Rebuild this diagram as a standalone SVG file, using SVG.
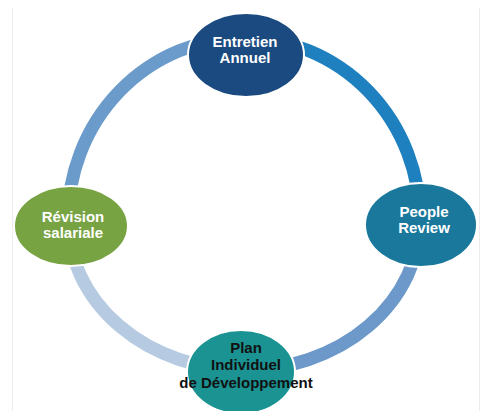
<svg xmlns="http://www.w3.org/2000/svg" width="483" height="411" viewBox="0 0 483 411">
  <style>
    .ring { fill: none; stroke-width: 13; }
    .node { stroke: #ffffff; stroke-width: 2; }
    .lbl { font-family: "Liberation Sans", Arial, sans-serif; font-weight: bold; font-size: 15px; text-anchor: middle; fill: #ffffff; }
    .dark { fill: #111111; }
    .frame { stroke: #ececec; stroke-width: 1; }
  </style>
  <rect width="483" height="411" fill="#ffffff"/>
  <line class="frame" x1="12.5" y1="8" x2="12.5" y2="411"/>
  <line class="frame" x1="479.5" y1="8" x2="479.5" y2="411"/>

  <!-- cycle ring, one arc per quarter -->
  <g id="connectors">
    <path class="ring" stroke="#6a9bcb" d="M68,220 A176,182 0 0,1 244,38"/>
    <path class="ring" stroke="#1f80c0" d="M244,38 A176,182 0 0,1 420,220"/>
    <path class="ring" stroke="#6c99c9" d="M420,220 A176,150 0 0,1 244,370"/>
    <path class="ring" stroke="#b6cae2" d="M244,370 A176,150 0 0,1 68,220"/>
  </g>

  <g id="node-entretien">
    <ellipse class="node" cx="246" cy="55" rx="58" ry="42" fill="#1a4a7f"/>
    <text class="lbl" x="245" y="47">Entretien</text>
    <text class="lbl" x="245" y="63">Annuel</text>
  </g>

  <g id="node-people">
    <ellipse class="node" cx="421" cy="225" rx="56" ry="42" fill="#19789c"/>
    <text class="lbl" x="424" y="217">People</text>
    <text class="lbl" x="424" y="233">Review</text>
  </g>

  <g id="node-plan">
    <ellipse class="node" cx="241" cy="372" rx="54" ry="42" fill="#1b9393"/>
    <text class="lbl dark" x="246" y="353">Plan</text>
    <text class="lbl dark" x="246" y="370">Individuel</text>
    <text class="lbl dark" x="246" y="388">de Développement</text>
  </g>

  <g id="node-revision">
    <ellipse class="node" cx="71" cy="226" rx="57" ry="40" fill="#77a343"/>
    <text class="lbl" x="73" y="222">Révision</text>
    <text class="lbl" x="73" y="238">salariale</text>
  </g>
</svg>
